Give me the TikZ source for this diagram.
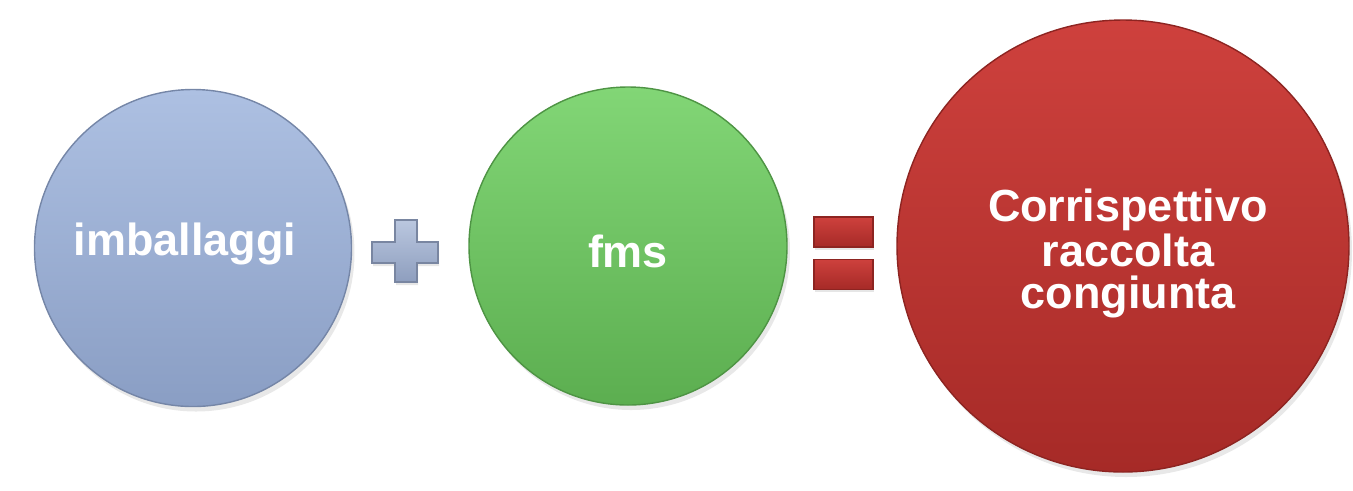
\documentclass[tikz,border=0pt]{standalone}
\usepackage{fontspec}
\setmainfont{Liberation Sans}
\usetikzlibrary{shadows,positioning}

\definecolor{balltop}{HTML}{ADC0E2}
\definecolor{ballbot}{HTML}{8A9EC4}
\definecolor{fmstop}{HTML}{82D676}
\definecolor{fmsbot}{HTML}{5CAE50}
\definecolor{corrtop}{HTML}{CE413D}
\definecolor{corrbot}{HTML}{A62A27}
\definecolor{plustop}{HTML}{BAC7DF}
\definecolor{plusbot}{HTML}{8E9EBE}

\begin{document}
\begin{tikzpicture}[every node/.style={inner sep=0pt},
	ball/.style={circle,draw=#1bot!85!black,line width=0.4pt,top color=#1top,bottom color=#1bot,
		drop shadow={opacity=0.18,shadow xshift=0.03cm,shadow yshift=-0.05cm}},
	txt/.style={text=white,font=\bfseries\fontsize{12.8}{11.8}\selectfont,align=center},
	bar/.style={rectangle,minimum width=0.59cm,minimum height=0.30cm,draw=corrbot!85!black,line width=0.3pt,
		top color=corrtop,bottom color=corrbot,drop shadow={opacity=0.2,shadow xshift=0.01cm,shadow yshift=-0.03cm}}]

	\useasboundingbox (0,0) rectangle (13.53,-4.90);

	% circles
	\node [ball=ball, minimum size=3.17cm] at (1.93,-2.48)	(imb)	{};
	\node [ball=fms,  minimum size=3.18cm] at (6.28,-2.46)	(fms)	{};
	\node [ball=corr, minimum size=4.52cm] at (11.23,-2.46)	(corr)	{};

	% texts (base = last line)
	\node [txt, anchor=base] at (1.85,-2.55)	(imbtxt)	{imballaggi};
	\node [txt, anchor=base] at (6.28,-2.67)	(fmstxt)	{fms};
	\node [txt, anchor=base] at (11.28,-3.08)	(corrtxt)	{Corrispettivo\\raccolta\\congiunta};

	% plus
	\fill [top color=plustop, bottom color=plusbot, draw=plusbot!85!black, line width=0.3pt,
		drop shadow={opacity=0.2,shadow xshift=0.01cm,shadow yshift=-0.03cm}]
		(3.95,-2.20) -- (4.17,-2.20) -- (4.17,-2.42) -- (4.38,-2.42) -- (4.38,-2.63)
		-- (4.17,-2.63) -- (4.17,-2.82) -- (3.95,-2.82) -- (3.95,-2.63) -- (3.72,-2.63)
		-- (3.72,-2.42) -- (3.95,-2.42) -- cycle;

	% equals
	\node [bar] at (8.435,-2.32)	(eqtop)	{};
	\node [bar, below=0.11cm of eqtop]	(eqbot)	{};

\end{tikzpicture}
\end{document}
